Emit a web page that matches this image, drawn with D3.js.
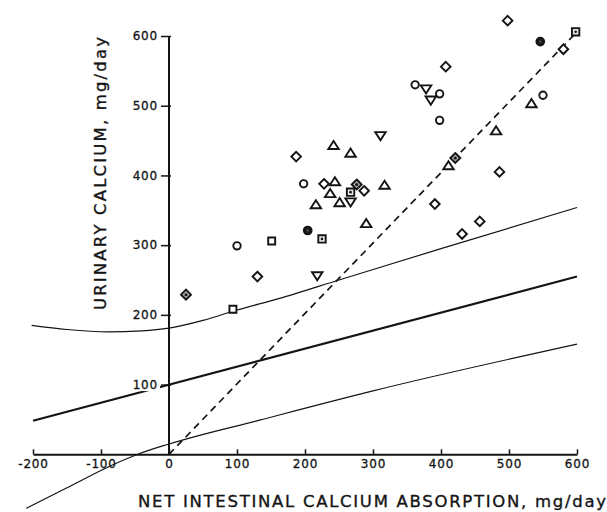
<!DOCTYPE html>
<html>
<head>
<meta charset="utf-8">
<script src="https://cdn.jsdelivr.net/npm/d3@7"></script>
<style>
  html, body { margin: 0; padding: 0; background: #fff; }
  svg { display: block; }
</style>
</head>
<body>
<svg id="chart" width="607" height="512"></svg>
<script>
// ---------- data ----------
const xTicks = [-200, -100, 0, 100, 200, 300, 400, 500, 600];
const yTicks = [100, 200, 300, 400, 500, 600];
const xTitle = "NET INTESTINAL CALCIUM ABSORPTION, mg/day";
const yTitle = "URINARY CALCIUM, mg/day";

const openCircles = [[362, 530], [398, 517], [550, 515], [398, 479], [198, 388], [100, 299]];
const openDiamonds = [[498, 622], [580, 581], [407, 556], [187, 427], [486, 405], [228, 388],
                      [287, 378], [391, 359], [457, 334], [431, 316], [130, 255]];
const trianglesUp = [[533, 503], [481, 464], [242, 443], [267, 432], [411, 414], [244, 391],
                     [317, 386], [237, 374], [251, 361], [216, 358], [290, 331]];
const trianglesDown = [[378, 524], [385, 508], [311, 457], [267, 362], [218, 256]];
const openSquares = [[151, 306], [94, 208]];
const filledCircles = [[546, 592], [204, 321]];
const dottedSquares = [[598, 606], [267, 376], [225, 309]];
const dottedDiamonds = [[421, 425], [276, 387], [25, 229]];

// regression line and its bands
const centerLine = [[-200, 48], [600, 255]];
const identityLine = [[0, 0], [600, 606]];
const upperBand = [[-202, 185], [-150, 179], [-90, 175.5], [-40, 177], [0, 181], [50, 192],
                   [100, 207], [160, 223], [250, 250], [400, 295], [600, 354]];
const lowerBand = [[-210, -77.5], [-150, -48], [-80, -14], [-46, 0], [0, 14.8], [133, 49],
                   [300, 91], [600, 158]];

// ---------- drawing ----------
const svg = d3.select("#chart");
const ink = "#141414";
const x = d3.scaleLinear().domain([-200, 600]).range([33, 577]);
const y = d3.scaleLinear().domain([0, 600]).range([454.3, 36]);

const line = d3.line().x(d => x(d[0])).y(d => y(d[1]));
const smooth = d3.line().x(d => x(d[0])).y(d => y(d[1])).curve(d3.curveMonotoneX);

// bands
svg.append("path").attr("d", smooth(upperBand)).attr("fill", "none")
  .attr("stroke", ink).attr("stroke-width", 1.2);
svg.append("path").attr("d", smooth(lowerBand)).attr("fill", "none")
  .attr("stroke", ink).attr("stroke-width", 1.2);
// center regression line
svg.append("path").attr("d", line(centerLine)).attr("fill", "none")
  .attr("stroke", ink).attr("stroke-width", 2.1);
// dashed identity line
svg.append("path").attr("d", line(identityLine)).attr("fill", "none")
  .attr("stroke", ink).attr("stroke-width", 1.7).attr("stroke-dasharray", "7,5");

const tickFont = sel => sel.attr("fill", ink)
  .style("font-family", "DejaVu Sans, sans-serif")
  .style("font-size", "12px").style("letter-spacing", "0.8px")
  .attr("stroke", ink).attr("stroke-width", 0.3);

// x axis
const xAxis = svg.append("g").attr("transform", `translate(0,${y(0)})`)
  .call(d3.axisBottom(x).tickValues(xTicks).tickSize(-5).tickSizeOuter(0).tickFormat(d3.format("d")));
xAxis.select(".domain").attr("stroke", ink).attr("stroke-width", 2);
xAxis.selectAll(".tick line").attr("stroke", ink).attr("stroke-width", 1.5);
xAxis.selectAll(".tick text").attr("y", 13.4).attr("dy", 0)
  .call(tickFont)
  .text(d => d < 0 ? "-" + Math.abs(d) : d);

// y axis
const yAxis = svg.append("g").attr("transform", `translate(${x(0)},0)`)
  .call(d3.axisLeft(y).tickValues(yTicks).tickSize(8).tickPadding(3).tickSizeOuter(0));
yAxis.select(".domain").attr("stroke", ink).attr("stroke-width", 2)
  .attr("d", `M0,${y(0)}V${y(600)}`);
yAxis.selectAll(".tick line").attr("stroke", ink).attr("stroke-width", 1.5).attr("x2", -8).attr("x1", 2);
// white backing so the regression line is interrupted behind the labels
yAxis.selectAll(".tick").insert("rect", "text")
  .attr("x", -37).attr("y", -6).attr("width", 28).attr("height", 12).attr("fill", "#fff");
yAxis.selectAll(".tick text").call(tickFont);

// titles
svg.append("text").attr("x", 138).attr("y", 507.3)
  .attr("textLength", 468).attr("lengthAdjust", "spacing")
  .attr("fill", ink).attr("stroke", ink).attr("stroke-width", 0.35)
  .style("font-family", "DejaVu Sans, sans-serif").style("font-size", "16.5px")
  .text(xTitle);
svg.append("text").attr("transform", "translate(105.5,310) rotate(-90)")
  .attr("textLength", 273).attr("lengthAdjust", "spacing")
  .attr("fill", ink).attr("stroke", ink).attr("stroke-width", 0.35)
  .style("font-family", "DejaVu Sans, sans-serif").style("font-size", "16.5px")
  .text(yTitle);

// ---------- markers ----------
function tri(r, up) {
  const h = r * Math.sqrt(3) / 2;
  return up
    ? `M0,${-h * 0.95}L${r * 0.95},${h * 0.75}L${-r * 0.95},${h * 0.75}Z`
    : `M0,${h * 0.95}L${r * 0.95},${-h * 0.75}L${-r * 0.95},${-h * 0.75}Z`;
}
const diamondPath = r => `M0,${-r}L${r},0L0,${r}L${-r},0Z`;
const squarePath = s => `M${-s},${-s}H${s}V${s}H${-s}Z`;

const g = svg.append("g").attr("stroke", ink).attr("stroke-width", 1.9);

function place(sel) { return sel.attr("transform", d => `translate(${x(d[0])},${y(d[1])})`); }

place(g.selectAll(".oc").data(openCircles).join("circle").attr("class", "oc"))
  .attr("r", 3.7).attr("fill", "#fff");
place(g.selectAll(".od").data(openDiamonds).join("path").attr("class", "od"))
  .attr("d", diamondPath(4.8)).attr("fill", "#fff");
place(g.selectAll(".tu").data(trianglesUp).join("path").attr("class", "tu"))
  .attr("d", tri(5.5, true)).attr("fill", "#fff");
place(g.selectAll(".td").data(trianglesDown).join("path").attr("class", "td"))
  .attr("d", tri(5.5, false)).attr("fill", "#fff");
place(g.selectAll(".os").data(openSquares).join("path").attr("class", "os"))
  .attr("d", squarePath(3.5)).attr("fill", "#fff");

place(g.selectAll(".fc").data(filledCircles).join("circle").attr("class", "fc"))
  .attr("r", 3.9).attr("fill", "#1a1a1a");
place(g.selectAll(".fcd").data(filledCircles).join("circle").attr("class", "fcd"))
  .attr("r", 0.9).attr("fill", "#777").attr("stroke", "none");

place(g.selectAll(".ds").data(dottedSquares).join("path").attr("class", "ds"))
  .attr("d", squarePath(3.7)).attr("fill", "#e8e8e8");
place(g.selectAll(".dsd").data(dottedSquares).join("circle").attr("class", "dsd"))
  .attr("r", 1.3).attr("fill", ink).attr("stroke", "none");

place(g.selectAll(".dd").data(dottedDiamonds).join("path").attr("class", "dd"))
  .attr("d", diamondPath(5)).attr("fill", "#aaa");
place(g.selectAll(".ddd").data(dottedDiamonds).join("circle").attr("class", "ddd"))
  .attr("r", 1.5).attr("fill", ink).attr("stroke", "none");
</script>
</body>
</html>
